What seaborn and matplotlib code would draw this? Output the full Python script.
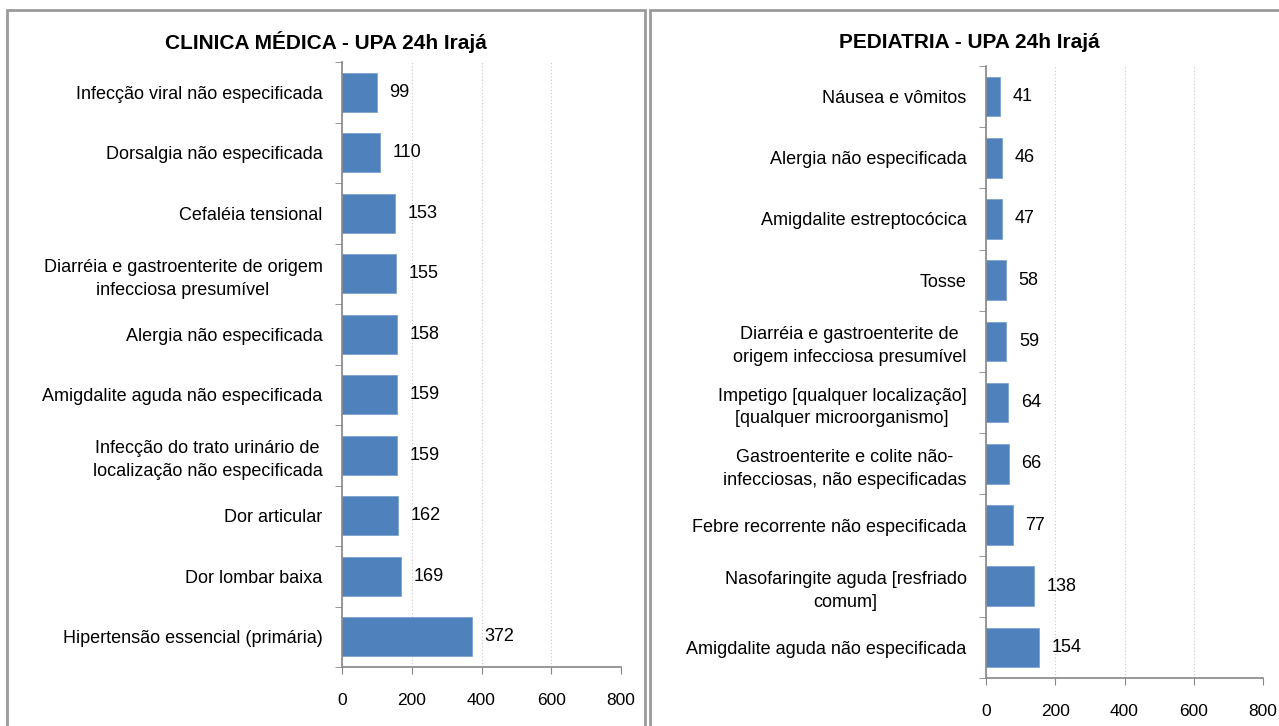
import matplotlib
matplotlib.use("Agg")
import matplotlib.pyplot as plt
import seaborn as sns
import pandas as pd
import numpy as np
from matplotlib.patches import Rectangle

# Dados - Clínica Médica
cm_labels = [
    "Infecção viral não especificada",
    "Dorsalgia não especificada",
    "Cefaléia tensional",
    "Diarréia e gastroenterite de origem\ninfecciosa presumível",
    "Alergia não especificada",
    "Amigdalite aguda não especificada",
    "Infecção do trato urinário de\nlocalização não especificada",
    "Dor articular",
    "Dor lombar baixa",
    "Hipertensão essencial (primária)",
]
cm_values = [99, 110, 153, 155, 158, 159, 159, 162, 169, 372]

# Dados - Pediatria
ped_labels = [
    "Náusea e vômitos",
    "Alergia não especificada",
    "Amigdalite estreptocócica",
    "Tosse",
    "Diarréia e gastroenterite de\norigem infecciosa presumível",
    "Impetigo [qualquer localização]\n[qualquer microorganismo]",
    "Gastroenterite e colite não-\ninfecciosas, não especificadas",
    "Febre recorrente não especificada",
    "Nasofaringite aguda [resfriado\ncomum]",
    "Amigdalite aguda não especificada",
]
ped_values = [41, 46, 47, 58, 59, 64, 66, 77, 138, 154]

titles = ["CLINICA MÉDICA - UPA 24h Irajá", "PEDIATRIA - UPA 24h Irajá"]
x_ticks = [0, 200, 400, 600, 800]

sns.set_style("white")
plt.rcParams["font.family"] = ["Liberation Sans", "DejaVu Sans"]
plt.rcParams["text.color"] = "black"
plt.rcParams["xtick.color"] = "black"
plt.rcParams["ytick.color"] = "black"

fig = plt.figure(figsize=(12.79, 7.26), dpi=100)
W, H = 1279, 726

# Molduras dos gráficos
for (x0, x1) in [(7, 645), (650, 1285)]:
    fig.patches.append(Rectangle((x0 / W, -0.05), (x1 - x0) / W, 1.05 - 10 / H,
                                 transform=fig.transFigure, fill=False,
                                 edgecolor="#9a9a9a", linewidth=2))

axes_pos = [
    [342 / W, 1 - 667 / H, 279 / W, (667 - 62) / H],
    [986 / W, 1 - 678 / H, 277 / W, (678 - 66) / H],
]
title_x = [326 / W, 969 / W]
datasets = [(cm_labels, cm_values), (ped_labels, ped_values)]

for i, (labels, values) in enumerate(datasets):
    ax = fig.add_axes(axes_pos[i])
    df = pd.DataFrame({"cat": labels, "val": values})
    sns.barplot(data=df, y="cat", x="val", orient="h", color="#4F81BD",
                saturation=1, width=0.65, edgecolor="#7ea3d1", linewidth=0.6, ax=ax)
    ax.set_xlim(0, 800)
    ax.set_ylim(len(labels) - 0.5, -0.5)
    ax.set_xticks(x_ticks)
    ax.set_xlabel("")
    ax.set_ylabel("")
    ax.xaxis.grid(True, linestyle=(0, (1, 2)), color="#c8c8c8", linewidth=0.8)
    ax.set_axisbelow(True)
    for s in ["top", "right"]:
        ax.spines[s].set_visible(False)
    for s in ["left", "bottom"]:
        ax.spines[s].set_color("#868686")
        ax.spines[s].set_linewidth(1.2)
    ax.tick_params(axis="x", direction="out", length=5, color="#868686",
                   labelsize=12.5, pad=14, bottom=True)
    ax.tick_params(axis="y", which="major", length=0, labelsize=13, pad=14)
    ax.set_yticks(np.arange(len(labels) + 1) - 0.5, minor=True)
    ax.tick_params(axis="y", which="minor", direction="out", length=5,
                   color="#868686", left=True)
    for lbl in ax.get_yticklabels():
        lbl.set_multialignment("center")
        lbl.set_linespacing(1.45)
    for j, v in enumerate(values):
        ax.annotate(str(v), (v, j), xytext=(9, 0), textcoords="offset points",
                    va="center", ha="left", fontsize=13)
    fig.text(title_x[i], 1 - 42 / H, titles[i], ha="center", va="center",
             fontsize=15, fontweight="bold")

fig.savefig("out.png", dpi=100)
